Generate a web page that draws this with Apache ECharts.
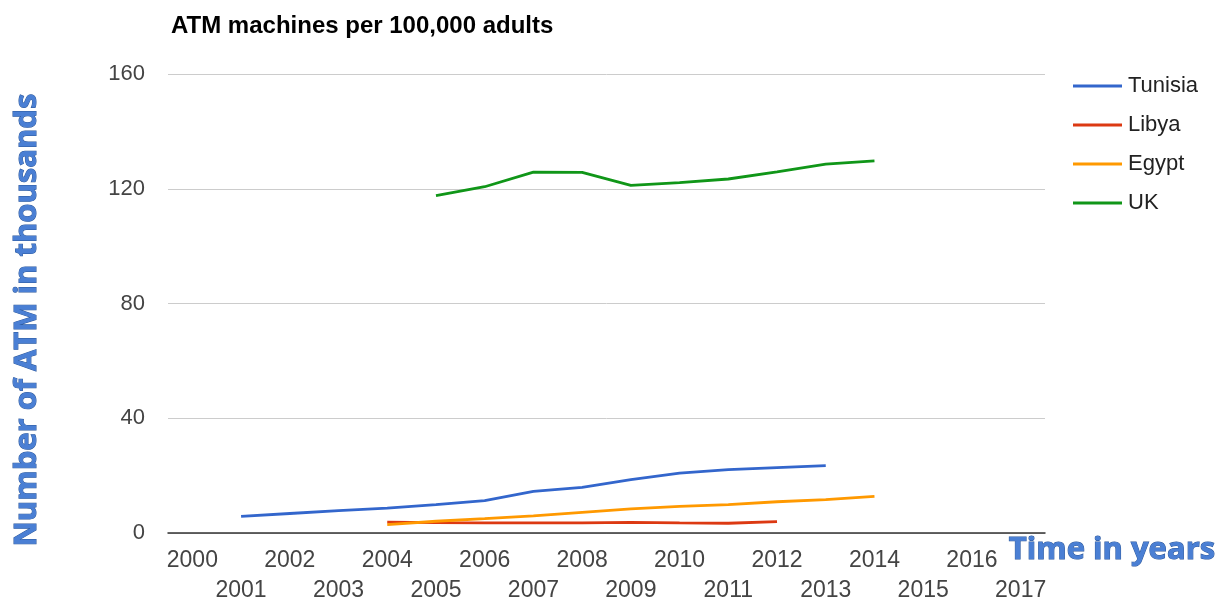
<!DOCTYPE html>
<html>
<head>
<meta charset="utf-8">
<script src="https://cdn.jsdelivr.net/npm/echarts@6/dist/echarts.min.js"></script>
<style>
  html, body { margin: 0; padding: 0; background: #fff; }
  #chart { width: 1224px; height: 606px; }
</style>
</head>
<body>
<div id="chart"></div>
<script>
// Years on the horizontal axis
const years = ['2000','2001','2002','2003','2004','2005','2006','2007','2008',
               '2009','2010','2011','2012','2013','2014','2015','2016','2017'];

// ATM machines per 100,000 adults (null = no data)
const tunisia = [null, 5.8, 6.8, 7.8, 8.7, 9.9, 11.3, 14.5, 15.9, 18.6, 20.9, 22.1, 22.8, 23.5, null, null, null, null];
const libya   = [null, null, null, null, 3.8, 3.6, 3.5, 3.5, 3.5, 3.7, 3.5, 3.4, 4.0, null, null, null, null, null];
const egypt   = [null, null, null, null, 2.9, 4.1, 5.0, 6.0, 7.2, 8.4, 9.3, 9.9, 10.9, 11.6, 12.8, null, null, null];
const uk      = [null, null, null, null, null, 117.6, 120.7, 125.8, 125.7, 121.2, 122.1, 123.4, 125.9, 128.6, 129.7, null, null, null];

const yTicks = [0, 40, 80, 120, 160];

const chart = echarts.init(document.getElementById('chart'));

function lineSeries(name, data, color) {
  return {
    name: name,
    type: 'line',
    data: data,
    symbol: 'none',
    smooth: false,
    lineStyle: { width: 2.8, color: color },
    itemStyle: { color: color }
  };
}

const axisTitleStyle = {
  fill: '#4a7fd4',
  stroke: '#2b579a',
  lineWidth: 1,
  fontWeight: 'bold',
  fontFamily: 'Open Sans',
  textAlign: 'center',
  textVerticalAlign: 'middle'
};

chart.setOption({
  animation: false,
  title: {
    text: 'ATM machines per 100,000 adults',
    left: 166,
    top: 9,
    textStyle: { fontFamily: 'Liberation Sans', fontWeight: 'bold', fontSize: 24, color: '#000' }
  },
  legend: {
    orient: 'vertical',
    left: 1068,
    top: 70,
    itemWidth: 49,
    itemHeight: 3,
    itemGap: 17,
    icon: 'rect',
    textStyle: { fontFamily: 'Liberation Sans', fontSize: 22, lineHeight: 22, color: '#222', padding: [0, 0, 0, 1] },
    data: ['Tunisia', 'Libya', 'Egypt', 'UK']
  },
  grid: { left: 168, right: 179, top: 74, bottom: 73, containLabel: false, outerBoundsMode: 'none' },
  xAxis: {
    type: 'category',
    data: years,
    boundaryGap: true,
    axisLine: { show: true, lineStyle: { color: '#333', width: 1.5 } },
    axisTick: { show: false },
    splitLine: { show: false },
    axisLabel: {
      interval: 0,
      margin: 13,
      fontFamily: 'Liberation Sans',
      fontSize: 23,
      color: '#444',
      lineHeight: 30,
      formatter: function (v, i) { return i % 2 === 0 ? v : '\n' + v; }
    }
  },
  yAxis: {
    type: 'value',
    min: yTicks[0],
    max: yTicks[yTicks.length - 1],
    interval: 40,
    axisLine: { show: false },
    axisTick: { show: false },
    splitLine: { lineStyle: { color: '#cccccc', width: 1 } },
    axisLabel: { margin: 23, fontFamily: 'Liberation Sans', fontSize: 22, color: '#444' }
  },
  graphic: [
    {
      type: 'text',
      x: 27,
      y: 320,
      rotation: Math.PI / 2,
      style: Object.assign({ text: 'Number of ATM in thousands', fontSize: 31 }, axisTitleStyle)
    },
    {
      type: 'text',
      x: 1112,
      y: 550,
      style: Object.assign({ text: 'Time in years', fontSize: 31 }, axisTitleStyle)
    }
  ],
  series: [
    lineSeries('Tunisia', tunisia, '#3366cc'),
    lineSeries('Libya', libya, '#dc3912'),
    lineSeries('Egypt', egypt, '#ff9900'),
    lineSeries('UK', uk, '#109618')
  ]
});
</script>
</body>
</html>
